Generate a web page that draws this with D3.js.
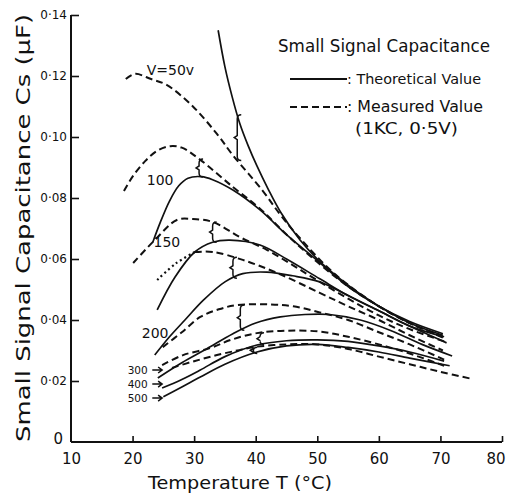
<!DOCTYPE html>
<html><head><meta charset="utf-8">
<script src="https://cdn.jsdelivr.net/npm/d3@7"></script>
<style>body{margin:0;background:#fff}svg{display:block}text{font-family:"DejaVu Sans",sans-serif;fill:#111}</style>
</head><body><svg id="c" width="509" height="496"></svg>
<script>
// ---- data (T in °C, C in µF) ----
const xTicks = [10,20,30,40,50,60,70,80];
const yTicks = [0,0.02,0.04,0.06,0.08,0.10,0.12,0.14];
const yTickLabels = ["0","0·02","0·04","0·06","0·08","0·10","0·12","0·14"];
const voltages = ["50","100","150","200","300","400","500"];

const theory50  = [[33.9,0.135],[35,0.123],[36.2,0.113],[37.4,0.1045],[38.8,0.097],[40.2,0.0905],[42,0.083],[44,0.0755],[47.2,0.0662],[50,0.060],[53.7,0.0535],[57,0.0485],[60,0.0445],[65,0.0395],[70.4,0.0355]];
const meas50    = [[18.9,0.119],[20.4,0.1207],[23,0.119],[25.6,0.117],[29.8,0.110],[33.7,0.101],[36.3,0.094],[41.2,0.0822],[44,0.0745],[47.2,0.0668],[53,0.0548],[60,0.0445],[65,0.039],[70.4,0.0345]];
const theory100 = [[23.3,0.0656],[24.5,0.072],[26,0.079],[27.5,0.084],[29,0.0865],[31.2,0.0870],[33,0.086],[36.3,0.0826],[40.7,0.0761],[45,0.068],[50,0.0595],[55,0.051],[60,0.0445],[65,0.039],[70.4,0.035]];
const meas100   = [[18.6,0.0823],[20,0.087],[22,0.092],[24,0.0955],[26.1,0.097],[28,0.0965],[31,0.0925],[36.3,0.0836],[40.7,0.0765],[45,0.068],[50,0.059],[55,0.051],[60,0.0445],[65,0.039],[70.4,0.0342]];
const theory150 = [[24,0.0433],[26.9,0.0541],[30.1,0.0623],[33,0.0655],[35.8,0.0662],[40.7,0.0646],[45,0.060],[50.4,0.0535],[55,0.048],[60,0.043],[65,0.038],[70.6,0.0345]];
const meas150   = [[20.1,0.0587],[23.6,0.0662],[27.2,0.0728],[29.8,0.0731],[33.1,0.0721],[37.4,0.0672],[41.8,0.063],[46,0.058],[50,0.053],[55,0.047],[60,0.0415],[65,0.037],[70.6,0.033]];
const theory200 = [[23.6,0.0285],[26,0.0345],[28.5,0.040],[31.5,0.0465],[35,0.0525],[37.9,0.0552],[41.8,0.0557],[46,0.0545],[50.4,0.0525],[55,0.048],[60,0.043],[65,0.038],[71,0.0325]];
const meas200   = [[24,0.0531],[27,0.0585],[30.1,0.0623],[33.1,0.0623],[37.9,0.0597],[43.5,0.0554],[50.4,0.0489],[55,0.0445],[60,0.040],[65,0.035],[70.4,0.030]];
const meas200DottedUntil = 30.1;
const theory300 = [[24.1,0.021],[28,0.026],[32,0.0305],[36.3,0.0355],[40,0.039],[44,0.041],[48,0.0418],[52,0.0418],[57,0.040],[62,0.0365],[67,0.032],[71.9,0.0282]];
const meas300   = [[24.9,0.0311],[28,0.036],[31,0.041],[34,0.0435],[37,0.0449],[42.3,0.0451],[46.1,0.0445],[50.4,0.0425],[55,0.040],[60,0.036],[65,0.032],[70.6,0.027]];
const theory400 = [[24.8,0.0177],[28,0.0205],[31,0.0236],[35,0.028],[40.2,0.0318],[45,0.0332],[50,0.0335],[55,0.033],[60,0.0315],[65,0.0295],[70.6,0.0265]];
const meas400   = [[24.8,0.0252],[28.2,0.0285],[32.6,0.0308],[36,0.0335],[40.2,0.0357],[45,0.0365],[50.4,0.0362],[55,0.0345],[60,0.032],[65,0.029],[70.6,0.025]];
const theory500 = [[25,0.0148],[28,0.018],[31,0.0213],[35,0.0255],[40.2,0.0295],[45,0.0315],[50,0.032],[55,0.031],[60,0.0295],[65,0.0275],[71.5,0.025]];
const meas500   = [[26.4,0.0243],[30,0.0265],[33.7,0.0285],[37,0.030],[39.6,0.0311],[45,0.032],[50,0.032],[55,0.0305],[60,0.028],[65,0.0255],[70,0.023],[75.1,0.0207]];

const theorySeries = [theory50,theory100,theory150,theory200,theory300,theory400,theory500];
const measSeries   = [meas50,meas100,meas150,meas200,meas300,meas400,meas500];
const braceT = [37,30.8,33,36.3,37.5,40.7,39.6];
const curveLabels = [[22.3,0.1203,"V=50v"],[22.3,0.0843,"100"],[23.4,0.0639,"150"],[21.5,0.0341,"200"]];
const arrowLabels = [["300",0.0236],["400",0.0190],["500",0.0144]];

// ---- scales ----
const x = d3.scaleLinear().domain([10,80]).range([71,502]);
const y = d3.scaleLinear().domain([0,0.14]).range([442,15]);
const svg = d3.select("#c");

// axes
const xAxis = d3.axisBottom(x).tickValues(xTicks).tickSize(-6).tickFormat(d3.format("d"));
const gx = svg.append("g").attr("transform","translate(0,442)").call(xAxis);
gx.select(".domain").attr("stroke","#111").attr("stroke-width",2).attr("d","M71,0H502");
gx.selectAll(".tick line").attr("stroke","#111").attr("stroke-width",1.6);
gx.selectAll(".tick text").attr("dy","1.25em").attr("font-size",15).attr("fill","#111");
gx.selectAll(".tick").filter(d=>d===10).select("line").remove();
gx.selectAll(".tick").filter(d=>d===80).select("text").attr("text-anchor","end").attr("dx","0.2em");

const yAxis = d3.axisLeft(y).tickValues(yTicks).tickSize(-8).tickFormat((d,i)=>yTickLabels[i]);
const gy = svg.append("g").attr("transform","translate(71,0)").call(yAxis);
gy.select(".domain").attr("stroke","#111").attr("stroke-width",2).attr("d","M0,15V442");
gy.selectAll(".tick line").attr("stroke","#111").attr("stroke-width",1.6);
gy.selectAll(".tick text").attr("font-size",12).attr("x",-4).attr("fill","#111");
gy.selectAll(".tick").filter(d=>d===0).select("line").remove();
gy.selectAll(".tick").filter(d=>d===0).select("text").attr("font-size",15).attr("x",-8).attr("dy","0.1em");

// titles
svg.append("text").attr("x",148).attr("y",489).attr("font-size",17)
  .attr("textLength",184).attr("lengthAdjust","spacingAndGlyphs").text("Temperature  T (°C)");
svg.append("text").attr("transform","translate(30,442) rotate(-90)").attr("font-size",20)
  .attr("textLength",428).attr("lengthAdjust","spacingAndGlyphs").text("Small Signal Capacitance  Cs (μF)");

// legend
svg.append("text").attr("x",278).attr("y",52).attr("font-size",18).attr("textLength",212).attr("lengthAdjust","spacingAndGlyphs").text("Small Signal Capacitance");
svg.append("line").attr("x1",290).attr("x2",347).attr("y1",79).attr("y2",79).attr("stroke","#111").attr("stroke-width",2);
svg.append("text").attr("x",347).attr("y",84).attr("font-size",14).attr("textLength",134).attr("lengthAdjust","spacingAndGlyphs").text(": Theoretical Value");
svg.append("line").attr("x1",290).attr("x2",347).attr("y1",107).attr("y2",107).attr("stroke","#111").attr("stroke-width",2).attr("stroke-dasharray","7,4");
svg.append("text").attr("x",347).attr("y",112).attr("font-size",15).attr("textLength",136).attr("lengthAdjust","spacingAndGlyphs").text(": Measured Value");
svg.append("text").attr("x",355).attr("y",134).attr("font-size",15).attr("textLength",103).attr("lengthAdjust","spacingAndGlyphs").text("(1KC, 0·5V)");

// curves
const line = d3.line().x(d=>x(d[0])).y(d=>y(d[1])).curve(d3.curveCatmullRom.alpha(0.5));
svg.append("g").selectAll("path").data(theorySeries).join("path")
  .attr("d",line).attr("fill","none").attr("stroke","#111").attr("stroke-width",1.7);
svg.append("g").selectAll("path").data(measSeries.filter((s,i)=>i!==3)).join("path")
  .attr("d",line).attr("fill","none").attr("stroke","#111").attr("stroke-width",2)
  .attr("stroke-dasharray","7,4");
// V=200 measured: dotted start, then dashed
svg.append("path").attr("d",line(meas200.filter(d=>d[0]<=meas200DottedUntil)))
  .attr("fill","none").attr("stroke","#111").attr("stroke-width",2.2).attr("stroke-dasharray","2,3");
svg.append("path").attr("d",line(meas200.filter(d=>d[0]>=meas200DottedUntil)))
  .attr("fill","none").attr("stroke","#111").attr("stroke-width",2).attr("stroke-dasharray","7,4");

// braces joining measured and theoretical values
function interp(s,t){
  for(let i=1;i<s.length;i++){ if(s[i][0]>=t){const a=s[i-1],b=s[i];return a[1]+(b[1]-a[1])*(t-a[0])/(b[0]-a[0]);} }
  return s[s.length-1][1];
}
const gb = svg.append("g").attr("stroke","#111").attr("stroke-width",1.5).attr("fill","none");
braceT.forEach((t,i)=>{
  const y1=y(interp(theorySeries[i],t)), y2=y(interp(measSeries[i],t));
  const top=Math.min(y1,y2), bot=Math.max(y1,y2), xp=x(t), mid=(top+bot)/2;
  gb.append("path").attr("d",`M${xp+4},${top}Q${xp},${top} ${xp},${top+4}L${xp},${mid-2}L${xp-3},${mid}L${xp},${mid+2}L${xp},${bot-4}Q${xp},${bot} ${xp+4},${bot}`);
});

// curve labels
svg.append("g").selectAll("text").data(curveLabels).join("text")
  .attr("x",d=>x(d[0])).attr("y",d=>y(d[1])).attr("font-size",14).text(d=>d[2]);
const ga = svg.append("g");
arrowLabels.forEach(d=>{
  const yy=y(d[1]);
  ga.append("text").attr("x",x(19.2)).attr("y",yy+4).attr("font-size",10.5).text(d[0]);
  ga.append("path").attr("d",`M${x(23.2)},${yy}H${x(24.8)}M${x(24.8)-4},${yy-3}L${x(24.8)},${yy}L${x(24.8)-4},${yy+3}`)
    .attr("stroke","#111").attr("stroke-width",1.5).attr("fill","none");
});
</script></body></html>
